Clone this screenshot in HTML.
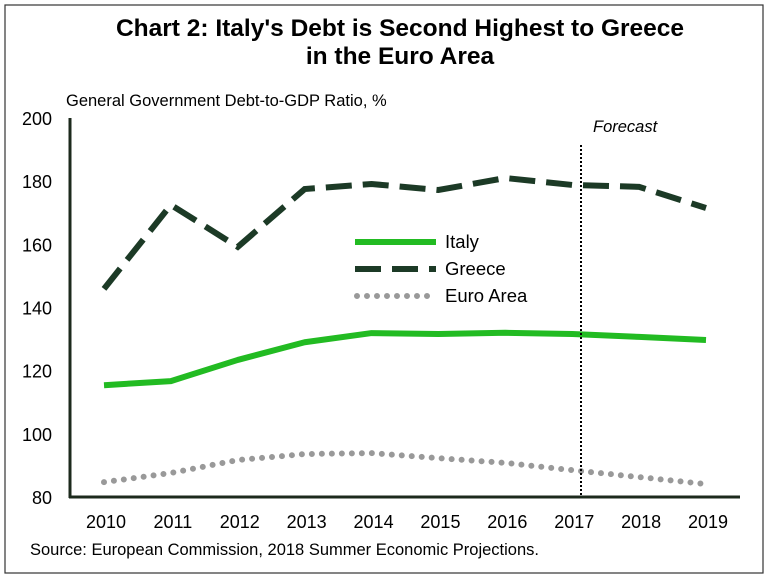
<!DOCTYPE html>
<html><head><meta charset="utf-8"><style>
body{margin:0;background:#fff;}
svg{display:block;font-family:"Liberation Sans",Arial,sans-serif;}
</style></head><body>
<svg id="chart" width="772" height="579" viewBox="0 0 772 579">
<rect x="5" y="5" width="758" height="568" fill="#fff" stroke="#333" stroke-width="1.2"/>
<text x="400" y="36" text-anchor="middle" font-size="24.5" font-weight="bold">Chart 2: Italy's Debt is Second Highest to Greece</text>
<text x="400" y="64" text-anchor="middle" font-size="24.5" font-weight="bold">in the Euro Area</text>
<text x="66" y="106" font-size="16.5">General Government Debt-to-GDP Ratio, %</text>
<text x="593" y="132" font-size="16.5" font-style="italic">Forecast</text>
<g id="yt"></g><g id="xt"></g><g id="series"></g>
<line x1="70" y1="118" x2="70" y2="498" stroke="#1c2a1c" stroke-width="3"/>
<line x1="69" y1="497" x2="740" y2="497" stroke="#1c2a1c" stroke-width="3"/>
<line id="fc" x1="581" y1="145" x2="581" y2="497" stroke="#000" stroke-width="2" stroke-dasharray="2,2"/>
<g>
<line x1="355" y1="242" x2="436" y2="242" stroke="#22bb22" stroke-width="6"/>
<text x="445" y="248" font-size="18.5">Italy</text>
<line x1="355" y1="269" x2="436" y2="269" stroke="#1c3a26" stroke-width="6" stroke-dasharray="26,11"/>
<text x="445" y="275" font-size="18.5">Greece</text>
<line x1="357" y1="296" x2="436" y2="296" stroke="#999" stroke-width="6" stroke-linecap="round" stroke-dasharray="0,10"/>
<text x="445" y="302" font-size="18.5">Euro Area</text>
</g>
<text x="30" y="555" font-size="16.5">Source: European Commission, 2018 Summer Economic Projections.</text>
</svg>
<script>
const years=[2010,2011,2012,2013,2014,2015,2016,2017,2018,2019];
const italy=[115.4,116.7,123.4,129,131.9,131.6,132,131.6,130.7,129.7];
const greece=[145.9,172.5,159.2,177.5,179.1,177.2,181,178.8,178.2,171.5];
const euroArea=[84.7,87.6,91.7,93.6,93.9,92.3,90.8,88.5,86.3,84.1];
const yTicks=[80,100,120,140,160,180,200];
const NS="http://www.w3.org/2000/svg";
function xs(i){return 104+i*(706-104)/(years.length-1);}
function ys(v){return 497-(v-80)*(497-118)/120;}
function mk(t,a,p){const e=document.createElementNS(NS,t);for(const k in a)e.setAttribute(k,a[k]);p.appendChild(e);return e;}
const yt=document.getElementById('yt');
yTicks.forEach(v=>{const t=mk('text',{x:52,y:ys(v)+7,'text-anchor':'end','font-size':18},yt);t.textContent=v;

});
const xt=document.getElementById('xt');
years.forEach((y,i)=>{const t=mk('text',{x:xs(i)+2,y:528,'text-anchor':'middle','font-size':18},xt);t.textContent=y;

});
const sg=document.getElementById('series');
function pts(a){return a.map((v,i)=>xs(i)+','+ys(v)).join(' ');}
const pe=mk('polyline',{points:pts(euroArea),fill:'none',stroke:'#999','stroke-width':6,'stroke-linecap':'round','stroke-dasharray':'0,10'},sg);


const pg=mk('polyline',{points:pts(greece),fill:'none',stroke:'#1c3a26','stroke-width':6,'stroke-dasharray':'26,11'},sg);


const pi=mk('polyline',{points:pts(italy),fill:'none',stroke:'#22bb22','stroke-width':6,'stroke-linejoin':'round'},sg);


</script>
</body></html>
